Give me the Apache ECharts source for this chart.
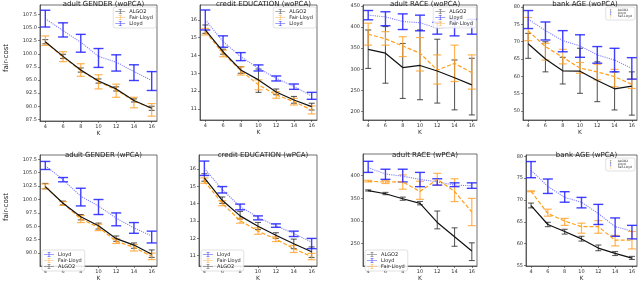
<!DOCTYPE html>
<html><head><meta charset="utf-8">
<script src="https://cdn.jsdelivr.net/npm/echarts@6/dist/echarts.min.js"></script>
<style>html,body{margin:0;padding:0;background:#fff}#c{width:640px;height:282px}</style>
</head><body><div id="c"></div>
<script>
// ---- data ----
const K = [4, 6, 8, 10, 12, 14, 16];

// adult GENDER (woPCA)
const genderWo_lloyd    = [106.7, 104.4, 102.2, 99.5, 98.4, 96.6, 94.9];
const genderWo_lloyd_lo = [105.1, 103.2, 100.3, 97.4, 96.7, 94.9, 93.0];
const genderWo_lloyd_hi = [108.3, 105.9, 103.7, 101.0, 99.8, 97.9, 96.6];
const genderWo_fair     = [102.2, 99.4, 96.8, 94.7, 93.1, 91.0, 89.6];
const genderWo_fair_lo  = [101.6, 98.5, 95.7, 93.3, 91.7, 89.7, 88.1];
const genderWo_fair_hi  = [103.4, 100.4, 98.1, 96.0, 94.2, 91.7, 90.5];
const genderWo_algo     = [102.3, 99.5, 96.9, 94.8, 93.3, 91.1, 89.6];
const genderWo_algo_lo  = [101.9, 99.1, 96.5, 94.4, 92.9, 90.8, 89.2];
const genderWo_algo_hi  = [102.7, 99.9, 97.3, 95.2, 93.7, 91.4, 90.0];
const genderWo_ticks    = [87.5, 90, 92.5, 95, 97.5, 100, 102.5, 105, 107.5];

// credit EDUCATION (woPCA)
const creditWo_lloyd    = [16.0, 14.78, 13.93, 13.28, 12.72, 12.25, 11.73];
const creditWo_lloyd_lo = [15.43, 14.46, 13.71, 13.13, 12.57, 12.10, 11.54];
const creditWo_lloyd_hi = [16.55, 15.10, 14.16, 13.47, 12.85, 12.40, 11.93];
const creditWo_fair     = [15.34, 14.12, 13.15, 12.35, 11.79, 11.41, 10.94];
const creditWo_fair_lo  = [15.15, 13.93, 12.90, 12.07, 11.60, 11.22, 10.72];
const creditWo_fair_hi  = [15.52, 14.30, 13.37, 12.63, 11.97, 11.60, 11.17];
const creditWo_algo     = [15.43, 14.21, 13.19, 12.63, 11.95, 11.50, 11.13];
const creditWo_algo_lo  = [15.24, 14.07, 13.00, 11.93, 11.80, 11.32, 10.94];
const creditWo_algo_hi  = [15.71, 14.35, 13.37, 13.24, 12.12, 11.70, 11.32];
const creditWo_ticks    = [11, 12, 13, 14, 15, 16];

// adult RACE (woPCA)
const raceWo_lloyd    = [428, 424, 413, 410, 397, 401, 401];
const raceWo_lloyd_lo = [417, 403, 394, 391, 383, 379, 383];
const raceWo_lloyd_hi = [439, 436, 431, 428, 411, 417, 418];
const raceWo_fair     = [383, 372, 355, 338, 298, 314, 292];
const raceWo_fair_lo  = [357, 357, 330, 296, 265, 271, 253];
const raceWo_fair_hi  = [409, 389, 377, 375, 334, 357, 334];
const raceWo_algo     = [347, 338, 304, 309, 296, 280, 263];
const raceWo_algo_lo  = [302, 267, 231, 228, 220, 204, 192];
const raceWo_algo_hi  = [393, 401, 361, 393, 371, 322, 326];
const raceWo_ticks    = [200, 250, 300, 350, 400, 450];

// bank AGE (woPCA)
const bankWo_lloyd    = [76.5, 73.2, 70.3, 68.8, 66.2, 64.7, 62.3];
const bankWo_lloyd_lo = [73.8, 70.5, 67.1, 65.5, 63.8, 61.3, 59.2];
const bankWo_lloyd_hi = [79.0, 75.7, 73.2, 72.0, 68.6, 68.1, 65.4];
const bankWo_fair     = [73.1, 68.6, 65.5, 62.4, 61.3, 59.9, 57.7];
const bankWo_fair_lo  = [70.3, 64.7, 63.6, 60.9, 59.0, 57.0, 56.5];
const bankWo_fair_hi  = [77.0, 69.5, 67.8, 64.0, 63.5, 62.0, 59.2];
const bankWo_algo     = [69.4, 65.0, 61.6, 61.5, 58.8, 56.4, 57.2];
const bankWo_algo_lo  = [65.2, 61.3, 57.8, 55.1, 52.7, 50.3, 48.8];
const bankWo_algo_hi  = [72.4, 70.0, 65.5, 68.1, 64.2, 61.3, 61.3];
const bankWo_ticks    = [50, 55, 60, 65, 70, 75, 80];

// adult GENDER (wPCA)
const genderW_lloyd    = [106.3, 103.7, 100.6, 98.8, 96.5, 94.7, 93.2];
const genderW_lloyd_lo = [105.6, 103.3, 98.8, 97.2, 95.1, 93.7, 91.9];
const genderW_lloyd_hi = [107.1, 104.1, 102.1, 100.0, 97.5, 95.7, 94.1];
const genderW_fair     = [102.4, 99.25, 96.4, 94.8, 92.2, 91.1, 89.4];
const genderW_fair_lo  = [102.0, 98.9, 95.7, 94.2, 91.8, 90.4, 88.8];
const genderW_fair_hi  = [102.9, 99.6, 97.0, 95.4, 92.7, 91.6, 90.0];
const genderW_algo     = [102.4, 99.3, 96.8, 95.1, 92.7, 91.5, 89.8];
const genderW_algo_lo  = [102.0, 99.0, 96.2, 94.5, 92.2, 90.9, 89.2];
const genderW_algo_hi  = [103.0, 99.7, 97.2, 95.6, 93.2, 91.9, 90.6];
const genderW_ticks    = [90, 92.5, 95, 97.5, 100, 102.5, 105, 107.5];

// credit EDUCATION (wPCA)
const creditW_lloyd    = [16.03, 14.80, 13.83, 13.20, 12.72, 12.28, 11.77];
const creditW_lloyd_lo = [15.62, 14.61, 13.64, 13.06, 12.63, 12.10, 11.40];
const creditW_lloyd_hi = [16.45, 14.98, 13.97, 13.29, 12.83, 12.41, 11.99];
const creditW_fair     = [15.29, 14.01, 13.02, 12.41, 11.95, 11.40, 10.94];
const creditW_fair_lo  = [15.17, 13.88, 12.87, 12.23, 11.81, 11.18, 10.76];
const creditW_fair_hi  = [15.48, 14.16, 13.15, 12.60, 12.08, 11.59, 11.13];
const creditW_algo     = [15.48, 14.19, 13.29, 12.69, 12.17, 11.68, 11.22];
const creditW_algo_lo  = [15.29, 14.01, 13.11, 12.50, 11.99, 11.40, 10.89];
const creditW_algo_hi  = [15.72, 14.38, 13.55, 12.91, 12.32, 11.95, 11.50];
const creditW_ticks    = [11, 12, 13, 14, 15, 16];

// adult RACE (wPCA)
const raceW_lloyd    = [417.5, 403.5, 398.6, 391.7, 386, 379, 377.7];
const raceW_lloyd_lo = [407, 391.7, 386, 375.6, 379, 375.6, 372];
const raceW_lloyd_hi = [431.4, 414, 414, 407, 393, 384, 384];
const raceW_fair     = [387.5, 386, 386, 365, 391.7, 365, 319.8];
const raceW_fair_lo  = [386, 382.6, 370, 347.7, 379, 342.8, 289.8];
const raceW_fair_hi  = [389.6, 389.6, 401.4, 387.5, 405, 393, 349.8];
const raceW_algo     = [367, 360, 349, 339, 296.8, 265.4, 234];
const raceW_algo_lo  = [366, 358, 345.6, 335.6, 282.8, 244.4, 213];
const raceW_algo_hi  = [368.6, 363, 352.6, 343, 322, 285, 252];
const raceW_ticks    = [250, 300, 350, 400];

// bank AGE (wPCA)
const bankW_lloyd    = [76.8, 73.1, 70.6, 69.5, 66.9, 63.9, 62.9];
const bankW_lloyd_lo = [75.1, 71.5, 69.5, 68.2, 64.4, 61.7, 61.1];
const bankW_lloyd_hi = [78.8, 74.8, 71.9, 70.6, 69.0, 65.9, 64.2];
const bankW_fair     = [72.0, 66.9, 65.2, 63.9, 63.9, 60.8, 60.8];
const bankW_fair_lo  = [71.9, 66.3, 64.2, 62.4, 62.4, 59.5, 58.8];
const bankW_fair_hi  = [72.1, 67.9, 65.8, 64.7, 65.3, 61.9, 62.8];
const bankW_algo     = [68.7, 64.4, 62.8, 61.1, 59.0, 57.8, 56.7];
const bankW_algo_lo  = [68.2, 63.9, 62.2, 60.6, 58.4, 57.3, 56.4];
const bankW_algo_hi  = [69.3, 64.9, 63.3, 61.7, 59.7, 58.2, 57.1];
const bankW_ticks    = [55, 60, 65, 70, 75, 80];

// ---- layout / styling ----
const FONT = 'DejaVu Sans';
const STYLE = {
  'Lloyd':      {line: {color: 'rgba(70,70,255,0.7)', width: 1.1, type: 'dotted'}, bar: 'rgba(30,30,255,0.85)', bw: 1.4, cap: 5},
  'Fair-Lloyd': {line: {color: '#ff9f1a', width: 1.2, type: [4, 2]}, bar: 'rgba(255,160,40,0.8)', bw: 1.2, cap: 4},
  'ALGO2':      {line: {color: '#111', width: 1.2, type: 'solid'}, bar: 'rgba(40,40,40,0.75)', bw: 1.1, cap: 3}
};
const EB_ICON = 'path://M0,4.6L20,4.6L20,5.4L0,5.4Z M9.4,0L10.6,0L10.6,10L9.4,10Z M7,0L13,0L13,1L7,1Z M7,9L13,9L13,10L7,10Z';

const panels = [
  {title: 'adult GENDER (woPCA)', g: [40, 5, 117, 116], y: [87.18, 109.3], ticks: genderWo_ticks, fmt: 1,
   d: {'ALGO2': [genderWo_algo, genderWo_algo_lo, genderWo_algo_hi], 'Fair-Lloyd': [genderWo_fair, genderWo_fair_lo, genderWo_fair_hi], 'Lloyd': [genderWo_lloyd, genderWo_lloyd_lo, genderWo_lloyd_hi]},
   leg: {order: ['ALGO2', 'Fair-Lloyd', 'Lloyd'], right: 484, top: 7}},
  {title: 'credit EDUCATION (woPCA)', g: [200, 5, 117, 115], y: [10.38, 16.83], ticks: creditWo_ticks, fmt: 0,
   d: {'ALGO2': [creditWo_algo, creditWo_algo_lo, creditWo_algo_hi], 'Fair-Lloyd': [creditWo_fair, creditWo_fair_lo, creditWo_fair_hi], 'Lloyd': [creditWo_lloyd, creditWo_lloyd_lo, creditWo_lloyd_hi]},
   leg: {order: ['ALGO2', 'Fair-Lloyd', 'Lloyd'], right: 324, top: 7}},
  {title: 'adult RACE (woPCA)', g: [363, 5, 114, 115], y: [180, 452], ticks: raceWo_ticks, fmt: 0,
   d: {'ALGO2': [raceWo_algo, raceWo_algo_lo, raceWo_algo_hi], 'Fair-Lloyd': [raceWo_fair, raceWo_fair_lo, raceWo_fair_hi], 'Lloyd': [raceWo_lloyd, raceWo_lloyd_lo, raceWo_lloyd_hi]},
   leg: {order: ['ALGO2', 'Lloyd', 'Fair-Lloyd'], right: 164, top: 7}},
  {title: 'bank AGE (woPCA)', g: [523, 5, 114, 115], y: [47.4, 80.6], ticks: bankWo_ticks, fmt: 0,
   d: {'ALGO2': [bankWo_algo, bankWo_algo_lo, bankWo_algo_hi], 'Fair-Lloyd': [bankWo_fair, bankWo_fair_lo, bankWo_fair_hi], 'Lloyd': [bankWo_lloyd, bankWo_lloyd_lo, bankWo_lloyd_hi]},
   leg: {order: ['ALGO2', 'Lloyd', 'Fair-Lloyd'], right: 5, top: 7, small: true}},
  {title: 'adult GENDER (wPCA)', g: [40, 155, 117, 117], y: [87.6, 108.3], ticks: genderW_ticks, fmt: 1,
   d: {'ALGO2': [genderW_algo, genderW_algo_lo, genderW_algo_hi], 'Fair-Lloyd': [genderW_fair, genderW_fair_lo, genderW_fair_hi], 'Lloyd': [genderW_lloyd, genderW_lloyd_lo, genderW_lloyd_hi]},
   leg: {order: ['Lloyd', 'Fair-Lloyd', 'ALGO2'], left: 42, top: 250}},
  {title: 'credit EDUCATION (wPCA)', g: [199, 155, 118, 117], y: [10.4, 16.8], ticks: creditW_ticks, fmt: 0,
   d: {'ALGO2': [creditW_algo, creditW_algo_lo, creditW_algo_hi], 'Fair-Lloyd': [creditW_fair, creditW_fair_lo, creditW_fair_hi], 'Lloyd': [creditW_lloyd, creditW_lloyd_lo, creditW_lloyd_hi]},
   leg: {order: ['Lloyd', 'Fair-Lloyd', 'ALGO2'], left: 201, top: 250}},
  {title: 'adult RACE (wPCA)', g: [363, 154, 114, 118], y: [201, 447.5], ticks: raceW_ticks, fmt: 0,
   d: {'ALGO2': [raceW_algo, raceW_algo_lo, raceW_algo_hi], 'Fair-Lloyd': [raceW_fair, raceW_fair_lo, raceW_fair_hi], 'Lloyd': [raceW_lloyd, raceW_lloyd_lo, raceW_lloyd_hi]},
   leg: {order: ['ALGO2', 'Lloyd', 'Fair-Lloyd'], left: 365, top: 250}},
  {title: 'bank AGE (wPCA)', g: [526, 155, 111, 116], y: [54.9, 80.3], ticks: bankW_ticks, fmt: 0,
   d: {'ALGO2': [bankW_algo, bankW_algo_lo, bankW_algo_hi], 'Fair-Lloyd': [bankW_fair, bankW_fair_lo, bankW_fair_hi], 'Lloyd': [bankW_lloyd, bankW_lloyd_lo, bankW_lloyd_hi]},
   leg: {order: ['ALGO2', 'Lloyd', 'Fair-Lloyd'], right: 5, top: 158, small: true}}
];

function errRender(name) {
  const st = STYLE[name];
  return function (params, api) {
    const x = api.value(0);
    const lo = api.coord([x, api.value(1)]);
    const hi = api.coord([x, api.value(2)]);
    const c = st.cap;
    const style = {stroke: st.bar, lineWidth: st.bw, fill: null};
    return {type: 'group', children: [
      {type: 'line', shape: {x1: lo[0], y1: lo[1], x2: hi[0], y2: hi[1]}, style},
      {type: 'line', shape: {x1: hi[0] - c, y1: hi[1], x2: hi[0] + c, y2: hi[1]}, style},
      {type: 'line', shape: {x1: lo[0] - c, y1: lo[1], x2: lo[0] + c, y2: lo[1]}, style}
    ]};
  };
}

const grid = [], xAxis = [], yAxis = [], title = [], legend = [], lineSeries = [], barSeries = [];
panels.forEach((p, i) => {
  grid.push({left: p.g[0], top: p.g[1], width: p.g[2], height: p.g[3], show: true, borderColor: '#333', borderWidth: 0.7, backgroundColor: '#fff'});
  title.push({text: p.title, left: p.g[0] + p.g[2] / 2, top: i < 4 ? -4 : 147, textAlign: 'center',
    textStyle: {fontSize: 7, fontWeight: 'normal', color: '#222', fontFamily: FONT}});
  xAxis.push({gridIndex: i, type: 'value', min: 3.4, max: 16.6, splitLine: {show: false},
    axisLine: {show: true, onZero: false, lineStyle: {color: '#333', width: 0.7}},
    axisTick: {show: true, length: 2, customValues: K, lineStyle: {color: '#333', width: 0.6}},
    axisLabel: {customValues: K, fontSize: 5, margin: 3, color: '#333', fontFamily: FONT},
    name: 'K', nameLocation: 'middle', nameGap: 9, nameTextStyle: {fontSize: 6, color: '#333', fontFamily: FONT}});
  yAxis.push({gridIndex: i, type: 'value', min: p.y[0], max: p.y[1], splitLine: {show: false},
    axisLine: {show: true, onZero: false, lineStyle: {color: '#333', width: 0.7}},
    axisTick: {show: true, length: 2, customValues: p.ticks, lineStyle: {color: '#333', width: 0.6}},
    axisLabel: {customValues: p.ticks, fontSize: 5, margin: 3, color: '#333', fontFamily: FONT,
      formatter: v => p.fmt ? v.toFixed(1) : String(Math.round(v))}});
  ['ALGO2', 'Fair-Lloyd', 'Lloyd'].forEach(name => {
    const [m, lo, hi] = p.d[name];
    lineSeries.push({type: 'line', name, xAxisIndex: i, yAxisIndex: i, symbol: 'none', silent: true, animation: false,
      data: K.map((k, j) => [k, m[j]]), lineStyle: STYLE[name].line, itemStyle: {color: STYLE[name].line.color},
      z: name === 'ALGO2' ? 4 : 3});
    barSeries.push({type: 'custom', name, xAxisIndex: i, yAxisIndex: i, silent: true, animation: false,
      data: K.map((k, j) => [k, lo[j], hi[j]]), encode: {x: 0, y: [1, 2]}, renderItem: errRender(name), z: 2});
  });
  const lg = p.leg;
  const L = {orient: 'vertical', top: lg.top, itemGap: lg.small ? 0 : 1, padding: [2, 3, 2, 2],
    itemWidth: lg.small ? 8 : 12, itemHeight: lg.small ? 3 : 5,
    backgroundColor: 'rgba(255,255,255,0.85)', borderColor: '#ccc', borderWidth: 0.6, borderRadius: 2,
    textStyle: {fontSize: lg.small ? 3 : 5, color: '#222', fontFamily: FONT, padding: [0, 0, 0, -2]},
    selectedMode: false,
    data: lg.order.map(n => ({name: n, icon: EB_ICON, itemStyle: {color: STYLE[n].bar, opacity: 1}}))};
  if (lg.left !== undefined) L.left = lg.left; else L.right = lg.right;
  legend.push(L);
});

const chart = echarts.init(document.getElementById('c'), null, {renderer: 'canvas'});
chart.setOption({
  animation: false,
  backgroundColor: '#fff',
  textStyle: {fontFamily: FONT},
  title, grid, xAxis, yAxis, legend,
  series: lineSeries.concat(barSeries),
  graphic: [
    {type: 'text', x: 6, y: 58, rotation: Math.PI / 2, style: {text: 'fair-cost', fontSize: 7, fill: '#222', align: 'center', verticalAlign: 'middle', fontFamily: FONT}},
    {type: 'text', x: 6, y: 207, rotation: Math.PI / 2, style: {text: 'fair-cost', fontSize: 7, fill: '#222', align: 'center', verticalAlign: 'middle', fontFamily: FONT}}
  ]
});
</script></body></html>
